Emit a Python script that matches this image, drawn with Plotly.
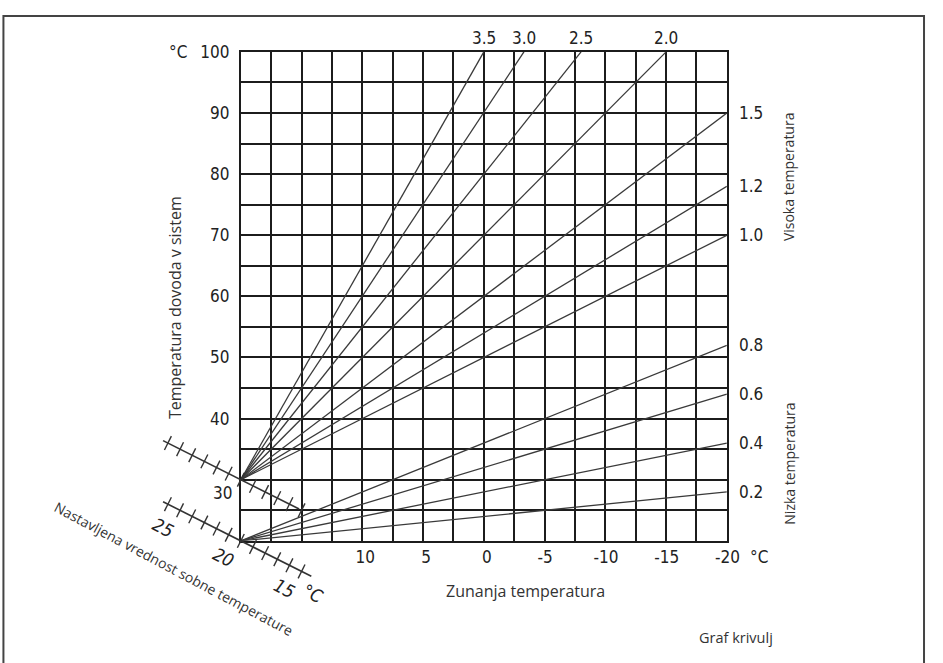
import plotly.graph_objects as go

W, H = 943, 663

# ── Data ──────────────────────────────────────────────────────────────────────
# outside temperature (x) and flow temperature (y) labelled ticks
x_ticks = [10, 5, 0, -5, -10, -15, -20]
x_tick_text = ["10", "5", "0", "-5", "-10", "-15", "-20"]
y_ticks = [40, 50, 60, 70, 80, 90, 100]

# heating curves: label, start and end point (outside temp, flow temp)
curve_labels = ["0.2", "0.4", "0.6", "0.8", "1.0", "1.2", "1.5", "2.0", "2.5", "3.0", "3.5"]
curve_start_out = [20, 20, 20, 20, 20, 20, 20, 20, 20, 20, 20]
curve_start_flow = [20, 20, 20, 20, 30, 30, 30, 30, 30, 30, 30]
curve_end_out = [-20, -20, -20, -20, -20, -20, -20, -15, -8, -3.3, 0]
curve_end_flow = [28, 36, 44, 52, 70, 78, 90, 100, 100, 100, 100]

# room temperature set-point scales (two slanted scales)
room_ticks = [15, 16, 17, 18, 19, 20, 21, 22, 23, 24, 25, 26]
room_low_span = [26.4, 14.2]
room_high_span = [26.4, 15.2]
room_low_offset = 0     # scale for low temperature curves
room_high_offset = 10   # scale for high temperature curves
room_labels = [25, 20, 15]

# ── Geometry (pixels of the grid) ─────────────────────────────────────────────
GL, GR, GT, GB = 245.5, 741, 42.5, 539
x_dom = [GL / W, GR / W]
y_dom = [1 - GB / H, 1 - GT / H]
ux = (GR - GL) / 40   # px per degree outside
uy = (GB - GT) / 80   # px per degree flow
x2_range = [20 + GL / ux, -20 - (W - GR) / ux]
y2_range = [20 - (H - GB) / uy, 100 + GT / uy]

GRID = "#1c1c1c"
CURVE = "#3a3a3a"
NUM_FONT = dict(family="DejaVu Sans Condensed, Liberation Sans Narrow, sans-serif",
                size=17, color="#222")
TXT_FONT = dict(family="Open Sans, Noto Sans, sans-serif", size=14, color="#333")

fig = go.Figure()

# heating curves
for lab, x0, y0, x1, y1 in zip(curve_labels, curve_start_out, curve_start_flow,
                               curve_end_out, curve_end_flow):
    fig.add_trace(go.Scatter(x=[x0, x1], y=[y0, y1], mode="lines",
                             line=dict(color=CURVE, width=1.3),
                             xaxis="x", yaxis="y", hoverinfo="skip"))
    if x1 > -20:
        fig.add_annotation(x=x1, y=y1, xref="x", yref="y", text=lab,
                           showarrow=False, yanchor="bottom", yshift=2,
                           font=NUM_FONT)
    else:
        fig.add_annotation(x=x1, y=y1, xref="x", yref="y", text=lab,
                           showarrow=False, xanchor="left", xshift=10,
                           font=NUM_FONT)

# slanted room temperature scales
ang = 26.6
for span, off in [(room_low_span, room_low_offset), (room_high_span, room_high_offset)]:
    fig.add_trace(go.Scatter(x=span, y=[v + off for v in span], mode="lines",
                             line=dict(color="#333", width=1.6),
                             xaxis="x2", yaxis="y2", hoverinfo="skip"))
    fig.add_trace(go.Scatter(x=room_ticks, y=[v + off for v in room_ticks],
                             mode="markers",
                             marker=dict(symbol="line-ns", size=11, angle=ang,
                                         line=dict(color="#333", width=1.4)),
                             xaxis="x2", yaxis="y2", hoverinfo="skip"))

ITAL = dict(NUM_FONT, size=18)
for r in room_labels:
    fig.add_annotation(x=r, y=r + room_low_offset, xref="x2", yref="y2",
                       text=f"<i>{r}</i>", showarrow=False, textangle=ang,
                       xshift=-17, yshift=-17, font=ITAL)
fig.add_annotation(x=13, y=13 + room_low_offset, xref="x2", yref="y2",
                   text="<i>°C</i>", showarrow=False, textangle=ang,
                   xshift=-13, yshift=-10, font=ITAL)

# "30" label sits below the upper scale
fig.add_annotation(x=20, y=30, xref="x", yref="y", text="30", showarrow=False,
                   xanchor="right", xshift=-7, yshift=-13, font=NUM_FONT)

# units and titles
def px_note(text, px, py, font, angle=0, anchor="center"):
    fig.add_annotation(x=px / W, y=1 - py / H, xref="paper", yref="paper",
                       text=text, showarrow=False, textangle=angle,
                       xanchor=anchor, yanchor="middle", font=font)

px_note("°C", 181, 43, NUM_FONT)
px_note("°C", 774, 555, NUM_FONT)
px_note("Temperatura dovoda v sistem", 179, 302, dict(TXT_FONT, size=16), -90)
px_note("Zunanja temperatura", 536, 590, dict(TXT_FONT, size=16))
px_note("Graf krivulj", 750, 637, dict(TXT_FONT, size=14.5))
px_note("Visoka temperatura", 804, 169, TXT_FONT, -90)
px_note("Nizka temperatura", 804, 461, TXT_FONT, -90)
px_note("Nastavljena vrednost sobne temperature", 177, 567, dict(TXT_FONT, size=14), 28)

# outer frame
fig.add_shape(type="rect", xref="paper", yref="paper",
              x0=3.5 / W, x1=942 / W, y0=-0.05, y1=1 - 6 / H,
              line=dict(color="#444", width=2))

axis_common = dict(showline=True, linecolor=GRID, linewidth=2, mirror=True,
                   showgrid=True, gridcolor=GRID, gridwidth=2, zeroline=False,
                   ticks="", tickfont=NUM_FONT, fixedrange=True)

fig.update_layout(
    autosize=True, margin=dict(l=0, r=0, t=0, b=0),
    paper_bgcolor="white", plot_bgcolor="rgba(0,0,0,0)",
    showlegend=False,
    xaxis=dict(axis_common, domain=x_dom, range=[20, -20], anchor="y",
               tickvals=x_ticks,
               ticktext=[t + "\u00a0" if t.startswith("-") else t for t in x_tick_text],
               ticklabelstandoff=0, ticklabelshift=-3,
               minor=dict(tick0=0, dtick=2.5, showgrid=True,
                          gridcolor=GRID, gridwidth=2)),
    yaxis=dict(axis_common, domain=y_dom, range=[20, 100], anchor="x",
               tickvals=y_ticks, ticklabelstandoff=6,
               minor=dict(tick0=0, dtick=5, showgrid=True,
                          gridcolor=GRID, gridwidth=2)),
    xaxis2=dict(domain=[0, 1], range=x2_range, anchor="y2", visible=False,
                fixedrange=True),
    yaxis2=dict(domain=[0, 1], range=y2_range, anchor="x2", visible=False,
                fixedrange=True),
)

# pin the figure to the viewport
fit_page = """
var gd = document.getElementById('{plot_id}');
document.documentElement.style.margin = '0';
document.documentElement.style.overflow = 'hidden';
document.body.style.margin = '0';
document.body.style.overflow = 'hidden';
gd.style.position = 'fixed';
gd.style.left = '0';
gd.style.top = '0';
gd.style.width = '100vw';
gd.style.height = '100vh';
Plotly.Plots.resize(gd);
"""

fig.write_html("out.html", config={"displayModeBar": False, "responsive": True},
               default_width="100%", default_height="100%",
               post_script=fit_page)
